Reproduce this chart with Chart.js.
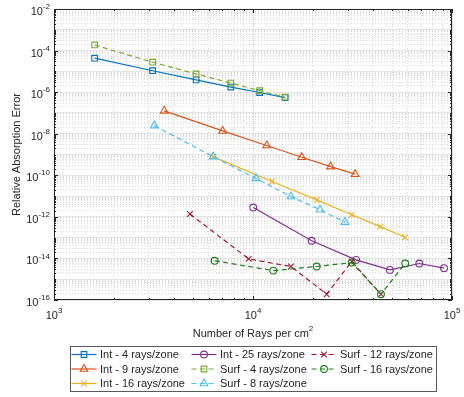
<!DOCTYPE html>
<html>
<head>
<meta charset="utf-8">
<script src="https://cdn.jsdelivr.net/npm/chart.js@4.4.0/dist/chart.umd.min.js"></script>
<style>
  html, body { margin: 0; padding: 0; background: #fff; }
  #wrap { width: 464px; height: 397px; position: relative; }
</style>
</head>
<body>
<div id="wrap"><canvas id="myChart"></canvas></div>
<script>
const ctx = document.querySelector("#myChart").getContext("2d");

// Rays per cm^2 (x) and relative absorption error (y)
const xInt4 = [1600, 3130, 5180, 7740, 10800, 14500];
const yInt4 = [4.3e-5, 1.07e-5, 3.9e-6, 1.75e-6, 9.6e-7, 5.5e-7];

const xInt9 = [3580, 7040, 11720, 17580, 24560, 32600];
const yInt9 = [1.26e-7, 1.36e-8, 2.7e-9, 7.4e-10, 2.6e-10, 1.13e-10];

const xInt16 = [6300, 12450, 20900, 31330, 43600, 58100];
const yInt16 = [7.9e-10, 5e-11, 6.6e-12, 1.26e-12, 3.4e-13, 1.05e-13];

const xInt25 = [10030, 19720, 32950, 48770, 68500, 91200];
const yInt25 = [2.8e-12, 7.1e-14, 8.5e-15, 2.8e-15, 5.7e-15, 3.4e-15];

const xSurf4 = [1600, 3130, 5180, 7740, 10800, 14500];
const ySurf4 = [1.86e-4, 2.75e-5, 7.5e-6, 2.75e-6, 1.17e-6, 5.7e-7];

const xSurf8 = [3190, 6300, 10350, 15520, 21720, 28970];
const ySurf8 = [2.45e-8, 7.9e-10, 7.1e-11, 9.5e-12, 2.2e-12, 5.6e-13];

const xSurf12 = [4820, 9510, 15520, 23460, 31330, 43950];
const ySurf12 = [1.38e-12, 9.5e-15, 4.1e-15, 1.9e-16, 7.1e-15, 1.9e-16];

const xSurf16 = [6420, 12650, 20900, 31330, 43950, 58210];
const ySurf16 = [7.7e-15, 2.6e-15, 4.1e-15, 6.3e-15, 1.9e-16, 5.7e-15];

const xMin = 1e3, xMax = 1e5;
const yMin = 1e-16, yMax = 1e-2;

const FONT = "'Liberation Sans', Arial, sans-serif";
const TEXT = "#262626";
const DASH = [5, 3.5];

function series(label, xs, ys, color, marker, dashed, radius) {
  return {
    label: label,
    data: xs.map((x, i) => ({ x: x, y: ys[i] })),
    borderColor: color,
    backgroundColor: "rgba(0,0,0,0)",
    pointBorderColor: color,
    pointBackgroundColor: "rgba(0,0,0,0)",
    pointStyle: marker,
    pointRadius: radius,
    pointHoverRadius: radius,
    pointBorderWidth: 1.1,
    borderWidth: 1.2,
    borderDash: dashed ? DASH : [],
    showLine: true,
    fill: false,
    tension: 0,
  };
}

const datasets = [
  series("Int - 4 rays/zone", xInt4, yInt4, "#0072BD", "rect", false, 4),
  series("Int - 9 rays/zone", xInt9, yInt9, "#D95319", "triangle", false, 4.5),
  series("Int - 16 rays/zone", xInt16, yInt16, "#EDB120", "crossRot", false, 4),
  series("Int - 25 rays/zone", xInt25, yInt25, "#7E2F8E", "circle", false, 3.4),
  series("Surf - 4 rays/zone", xSurf4, ySurf4, "#77AC30", "rect", true, 4),
  series("Surf - 8 rays/zone", xSurf8, ySurf8, "#4DBEEE", "triangle", true, 4.5),
  series("Surf - 12 rays/zone", xSurf12, ySurf12, "#A2142F", "crossRot", true, 4),
  series("Surf - 16 rays/zone", xSurf16, ySurf16, "#1A7F1A", "circle", true, 3.4),
];
// later series on top, like MATLAB
datasets.forEach((d, i) => { d.order = datasets.length - i; });

const lg = v => Math.log10(v);
const isDecade = v => Math.abs(lg(v) - Math.round(lg(v))) < 1e-6;

function logTicks(lo, hi) {
  const out = [];
  for (let k = Math.round(lg(lo)); k < Math.round(lg(hi)); k++) {
    for (let m = 1; m <= 9; m++) out.push({ value: m * Math.pow(10, k) });
  }
  out.push({ value: hi });
  return out;
}

const gridOpts = {
  drawTicks: false,
  lineWidth: 1,
  color: (c) => (c.tick && isDecade(c.tick.value) ? "#e4e4e4" : "#dadada"),
};
const borderOpts = {
  display: false,
  dash: (c) => (c.tick && !isDecade(c.tick.value) ? [1, 2] : []),
};

function drawMarker(g, style, x, y, r) {
  g.beginPath();
  if (style === "rect") {
    const s = Math.SQRT1_2 * r;
    g.rect(x - s, y - s, 2 * s, 2 * s);
  } else if (style === "triangle") {
    g.moveTo(x, y - r);
    g.lineTo(x + r * Math.sin(Math.PI / 3), y + r / 2);
    g.lineTo(x - r * Math.sin(Math.PI / 3), y + r / 2);
    g.closePath();
  } else if (style === "circle") {
    g.arc(x, y, r, 0, Math.PI * 2);
  } else {
    const s = Math.SQRT1_2 * r;
    g.moveTo(x - s, y - s); g.lineTo(x + s, y + s);
    g.moveTo(x - s, y + s); g.lineTo(x + s, y - s);
  }
  g.stroke();
}

// "10" with a raised exponent, anchored by its left edge
function powerLabel(g, base, sup, left, midY, supMidY) {
  g.font = "11px " + FONT;
  const bw = g.measureText(base).width;
  g.textAlign = "left";
  g.textBaseline = "middle";
  g.fillText(base, left, midY);
  g.font = "8px " + FONT;
  g.fillText(sup, left + bw, supMidY);
}
function powerWidth(g, base, sup) {
  g.font = "11px " + FONT;
  const bw = g.measureText(base).width;
  g.font = "8px " + FONT;
  return bw + g.measureText(sup).width;
}

const matlabAxes = {
  id: "matlabAxes",
  beforeDatasetsDraw(chart) {
    const g = chart.ctx;
    const a = chart.chartArea;
    const sx = chart.scales.x, sy = chart.scales.y;
    g.save();
    g.strokeStyle = TEXT;
    g.lineWidth = 1;
    g.setLineDash([]);
    g.beginPath();
    sx.ticks.forEach((t) => {
      const px = Math.round(sx.getPixelForValue(t.value)) + 0.5;
      const len = isDecade(t.value) ? 4 : 2;
      g.moveTo(px, a.bottom); g.lineTo(px, a.bottom - len);
      g.moveTo(px, a.top); g.lineTo(px, a.top + len);
    });
    sy.ticks.forEach((t) => {
      const py = Math.round(sy.getPixelForValue(t.value)) + 0.5;
      const major = isDecade(t.value) && Math.round(lg(t.value)) % 2 === 0;
      const len = major ? 4 : 2;
      g.moveTo(a.left, py); g.lineTo(a.left + len, py);
      g.moveTo(a.right, py); g.lineTo(a.right - len, py);
    });
    g.stroke();
    g.strokeRect(Math.round(a.left) + 0.5, Math.round(a.top) + 0.5,
      Math.round(a.right - a.left) - 1, Math.round(a.bottom - a.top) - 1);
    g.restore();
  },
  afterDraw(chart) {
    const g = chart.ctx;
    const a = chart.chartArea;
    const sx = chart.scales.x, sy = chart.scales.y;
    g.save();
    g.fillStyle = TEXT;

    // y tick labels, every second decade
    sy.ticks.forEach((t) => {
      if (!isDecade(t.value)) return;
      const e = Math.round(lg(t.value));
      if (e % 2 !== 0) return;
      const py = sy.getPixelForValue(t.value);
      const w = powerWidth(g, "10", String(e));
      powerLabel(g, "10", String(e), a.left - 4 - w, py + 3, py - 2);
    });
    // x tick labels
    sx.ticks.forEach((t) => {
      if (!isDecade(t.value)) return;
      const e = Math.round(lg(t.value));
      const px = sx.getPixelForValue(t.value);
      const w = powerWidth(g, "10", String(e));
      powerLabel(g, "10", String(e), px - w / 2, a.bottom + 16, a.bottom + 11);
    });

    // axis titles
    const xt = "Number of Rays per cm";
    const tw = powerWidth(g, xt, "2");
    powerLabel(g, xt, "2", (a.left + a.right) / 2 - tw / 2, 333.5, 329);

    g.save();
    g.translate(17, (a.top + a.bottom) / 2);
    g.rotate(-Math.PI / 2);
    g.font = "11px " + FONT;
    g.textAlign = "center";
    g.textBaseline = "middle";
    g.fillText("Relative Absorption Error", 0, 0);
    g.restore();

    // legend, 3 columns filled column by column
    const box = { x: 70.5, y: 346.5, w: 366, h: 45 };
    g.fillStyle = "#fff";
    g.fillRect(box.x, box.y, box.w, box.h);
    g.strokeStyle = "#5a5a5a";
    g.lineWidth = 1;
    g.strokeRect(box.x, box.y, box.w, box.h);
    const colX = [71.5, 191.5, 311.5];
    const rowY = [354.5, 369, 383.5];
    chart.data.datasets.forEach((d, i) => {
      const x0 = colX[Math.floor(i / 3)];
      const y0 = rowY[i % 3];
      g.strokeStyle = d.borderColor;
      g.lineWidth = d.borderWidth;
      g.setLineDash(d.borderDash);
      g.beginPath();
      g.moveTo(x0, y0); g.lineTo(x0 + 25, y0);
      g.stroke();
      g.setLineDash([]);
      g.lineWidth = d.pointBorderWidth;
      drawMarker(g, d.pointStyle, x0 + 12.5, y0, d.pointRadius);
      g.fillStyle = TEXT;
      g.font = "11px " + FONT;
      g.textAlign = "left";
      g.textBaseline = "middle";
      g.fillText(d.label, x0 + 28.5, y0 + 0.5);
    });
    g.restore();
  },
};

const config = {
  type: "scatter",
  data: { datasets: datasets },
  options: {
    responsive: true,
    maintainAspectRatio: false,
    animation: false,
    layout: { padding: { left: 54, top: 9, right: 12, bottom: 97 } },
    plugins: {
      legend: { display: false },
      tooltip: { enabled: false },
    },
    scales: {
      x: {
        type: "logarithmic",
        min: xMin,
        max: xMax,
        afterBuildTicks: (s) => { s.ticks = logTicks(xMin, xMax); },
        afterFit: (s) => { s.height = 0; },
        ticks: { display: false },
        title: { display: false },
        grid: gridOpts,
        border: borderOpts,
      },
      y: {
        type: "logarithmic",
        min: yMin,
        max: yMax,
        afterBuildTicks: (s) => { s.ticks = logTicks(yMin, yMax); },
        afterFit: (s) => { s.width = 0; },
        ticks: { display: false },
        title: { display: false },
        grid: gridOpts,
        border: borderOpts,
      },
    },
  },
  plugins: [matlabAxes],
};

const myChart = new Chart(ctx, config);
</script>
</body>
</html>
